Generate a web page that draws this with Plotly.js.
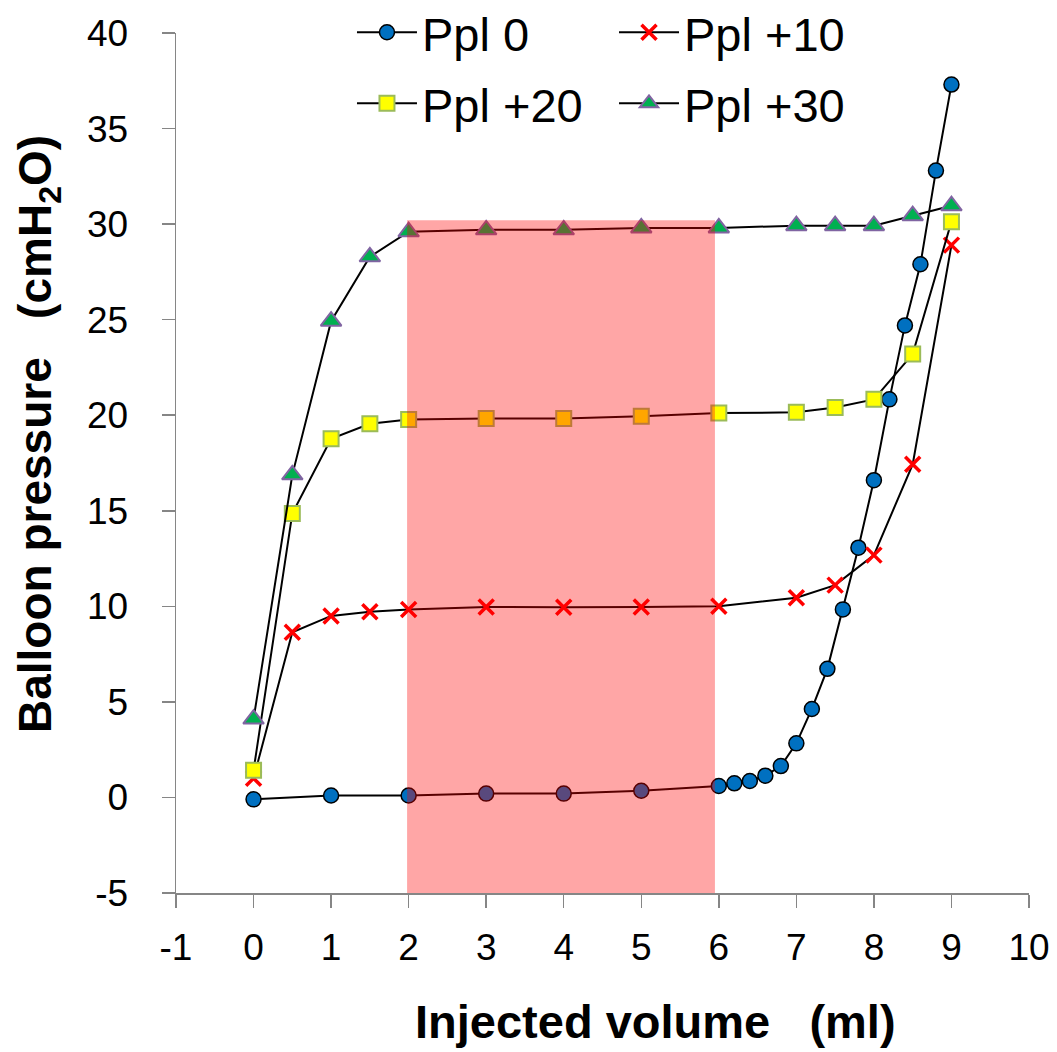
<!DOCTYPE html>
<html>
<head>
<meta charset="utf-8">
<script src="https://cdn.plot.ly/plotly-3.0.1.min.js"></script>
<style>html,body{margin:0;padding:0;background:#fff;}#chart{width:1057px;height:1052px;}</style>
</head>
<body>
<div id="chart"></div>
<script>
// Ppl 0
const x0 = [0, 1, 2, 3, 4, 5, 6, 6.2, 6.4, 6.6, 6.8, 7, 7.2, 7.4, 7.6, 7.8, 8, 8.2, 8.4, 8.6, 8.8, 9];
const y0 = [-0.1, 0.1, 0.1, 0.2, 0.2, 0.35, 0.6, 0.74, 0.86, 1.14, 1.64, 2.83, 4.63, 6.73, 9.84, 13.07, 16.6, 20.83, 24.7, 27.9, 32.8, 37.3];
// Ppl +10
const x10 = [0, 0.5, 1, 1.5, 2, 3, 4, 5, 6, 7, 7.5, 8, 8.5, 9];
const y10 = [1.0, 8.64, 9.5, 9.72, 9.83, 9.97, 9.95, 9.96, 10.01, 10.45, 11.11, 12.68, 17.43, 28.9];
// Ppl +20
const x20 = [0, 0.5, 1, 1.5, 2, 3, 4, 5, 6, 7, 7.5, 8, 8.5, 9];
const y20 = [1.42, 14.86, 18.77, 19.55, 19.77, 19.83, 19.83, 19.94, 20.11, 20.15, 20.41, 20.83, 23.2, 30.13];
// Ppl +30
const x30 = [0, 0.5, 1, 1.5, 2, 3, 4, 5, 6, 7, 7.5, 8, 8.5, 9];
const y30 = [4.1, 16.88, 24.92, 28.29, 29.6, 29.7, 29.7, 29.8, 29.8, 29.92, 29.92, 29.92, 30.44, 30.96];
const seriesNames = ["Ppl 0", "Ppl +10", "Ppl +20", "Ppl +30"];
// Axis ticks
const xTickVals = [-1, 0, 1, 2, 3, 4, 5, 6, 7, 8, 9, 10];
const xTickText = ["-1", "0", "1", "2", "3", "4", "5", "6", "7", "8", "9", "10"];
const yTickVals = [-5, 0, 5, 10, 15, 20, 25, 30, 35, 40];
const yTickText = ["-5", "0", "5", "10", "15", "20", "25", "30", "35", "40"];
// Highlighted region
const bandX = [1.98, 5.95];
const bandY = [-5, 30.2];
const xTitle = "Injected volume\u00A0\u00A0\u00A0(ml)";
const yTitle = "Balloon pressure\u00A0\u00A0\u00A0(cmH<sub>2</sub>O)";

const FONT = "Liberation Sans, Arial, sans-serif";
const lineStyle = {color: "#000000", width: 2};

const traces = [
  {x: x0, y: y0, name: seriesNames[0], mode: "lines+markers", line: lineStyle, legend: "legend", legendgroup: "a",
   marker: {symbol: "circle", size: 15, color: "#0070C0", line: {color: "#000000", width: 1.5}}},
  {x: x10, y: y10, name: seriesNames[1], mode: "lines+markers", line: lineStyle, legend: "legend2", legendgroup: "b",
   marker: {symbol: "x-thin", size: 15, color: "#FF0000", line: {color: "#FF0000", width: 3.5}}},
  {x: x20, y: y20, name: seriesNames[2], mode: "lines+markers", line: lineStyle, legend: "legend", legendgroup: "c",
   marker: {symbol: "square", size: 15, color: "#FFFF00", line: {color: "#9BBB59", width: 2}}},
  {x: x30, y: y30, name: seriesNames[3], mode: "lines+markers", line: lineStyle, legend: "legend2", legendgroup: "d",
   marker: {symbol: "triangle-up", size: 18, color: "#00B050", line: {color: "#8064A2", width: 2}}}
];

const axisCommon = {
  showline: true, linecolor: "#868686", linewidth: 1.5,
  ticks: "outside", ticklen: 13, tickwidth: 1.5, tickcolor: "#868686",
  showgrid: false, zeroline: false, tickmode: "array",
  tickfont: {family: FONT, size: 37, color: "#000000"}
};

const legendCommon = {
  orientation: "v", xanchor: "left", yanchor: "top", yref: "paper",
  bgcolor: "rgba(0,0,0,0)", borderwidth: 0, tracegroupgap: 7, itemwidth: 60,
  font: {family: FONT, size: 47, color: "#000000"}
};

const layout = {
  width: 1057, height: 1052,
  margin: {l: 176, r: 28, t: 33, b: 159, autoexpand: false},
  paper_bgcolor: "#ffffff", plot_bgcolor: "#ffffff",
  showlegend: true,
  xaxis: Object.assign({}, axisCommon, {range: [-1, 10], tickvals: xTickVals, ticktext: xTickText, ticklabelstandoff: 8}),
  yaxis: Object.assign({}, axisCommon, {range: [-5, 40], tickvals: yTickVals, ticktext: yTickText, ticklabelstandoff: 26}),
  legend: Object.assign({}, legendCommon, {x: 0.2063, y: 1.044}),
  legend2: Object.assign({}, legendCommon, {x: 0.5135, y: 1.044}),
  shapes: [{type: "rect", xref: "x", yref: "y", x0: bandX[0], x1: bandX[1], y0: bandY[0], y1: bandY[1],
            fillcolor: "rgba(255,0,0,0.35)", line: {width: 0}, layer: "above"}],
  annotations: [
    {text: "<b>" + xTitle + "</b>", xref: "paper", yref: "paper", x: 0.5627, y: -0.15, showarrow: false,
     xanchor: "center", yanchor: "middle", font: {family: FONT, size: 47, color: "#000000"}},
    {text: "<b>" + yTitle + "</b>", xref: "paper", yref: "paper", x: -0.1618, y: 0.5337, showarrow: false,
     textangle: -90, xanchor: "center", yanchor: "middle", font: {family: FONT, size: 46, color: "#000000"}}
  ]
};

Plotly.newPlot("chart", traces, layout, {displayModeBar: false, staticPlot: true});
</script>
</body>
</html>
